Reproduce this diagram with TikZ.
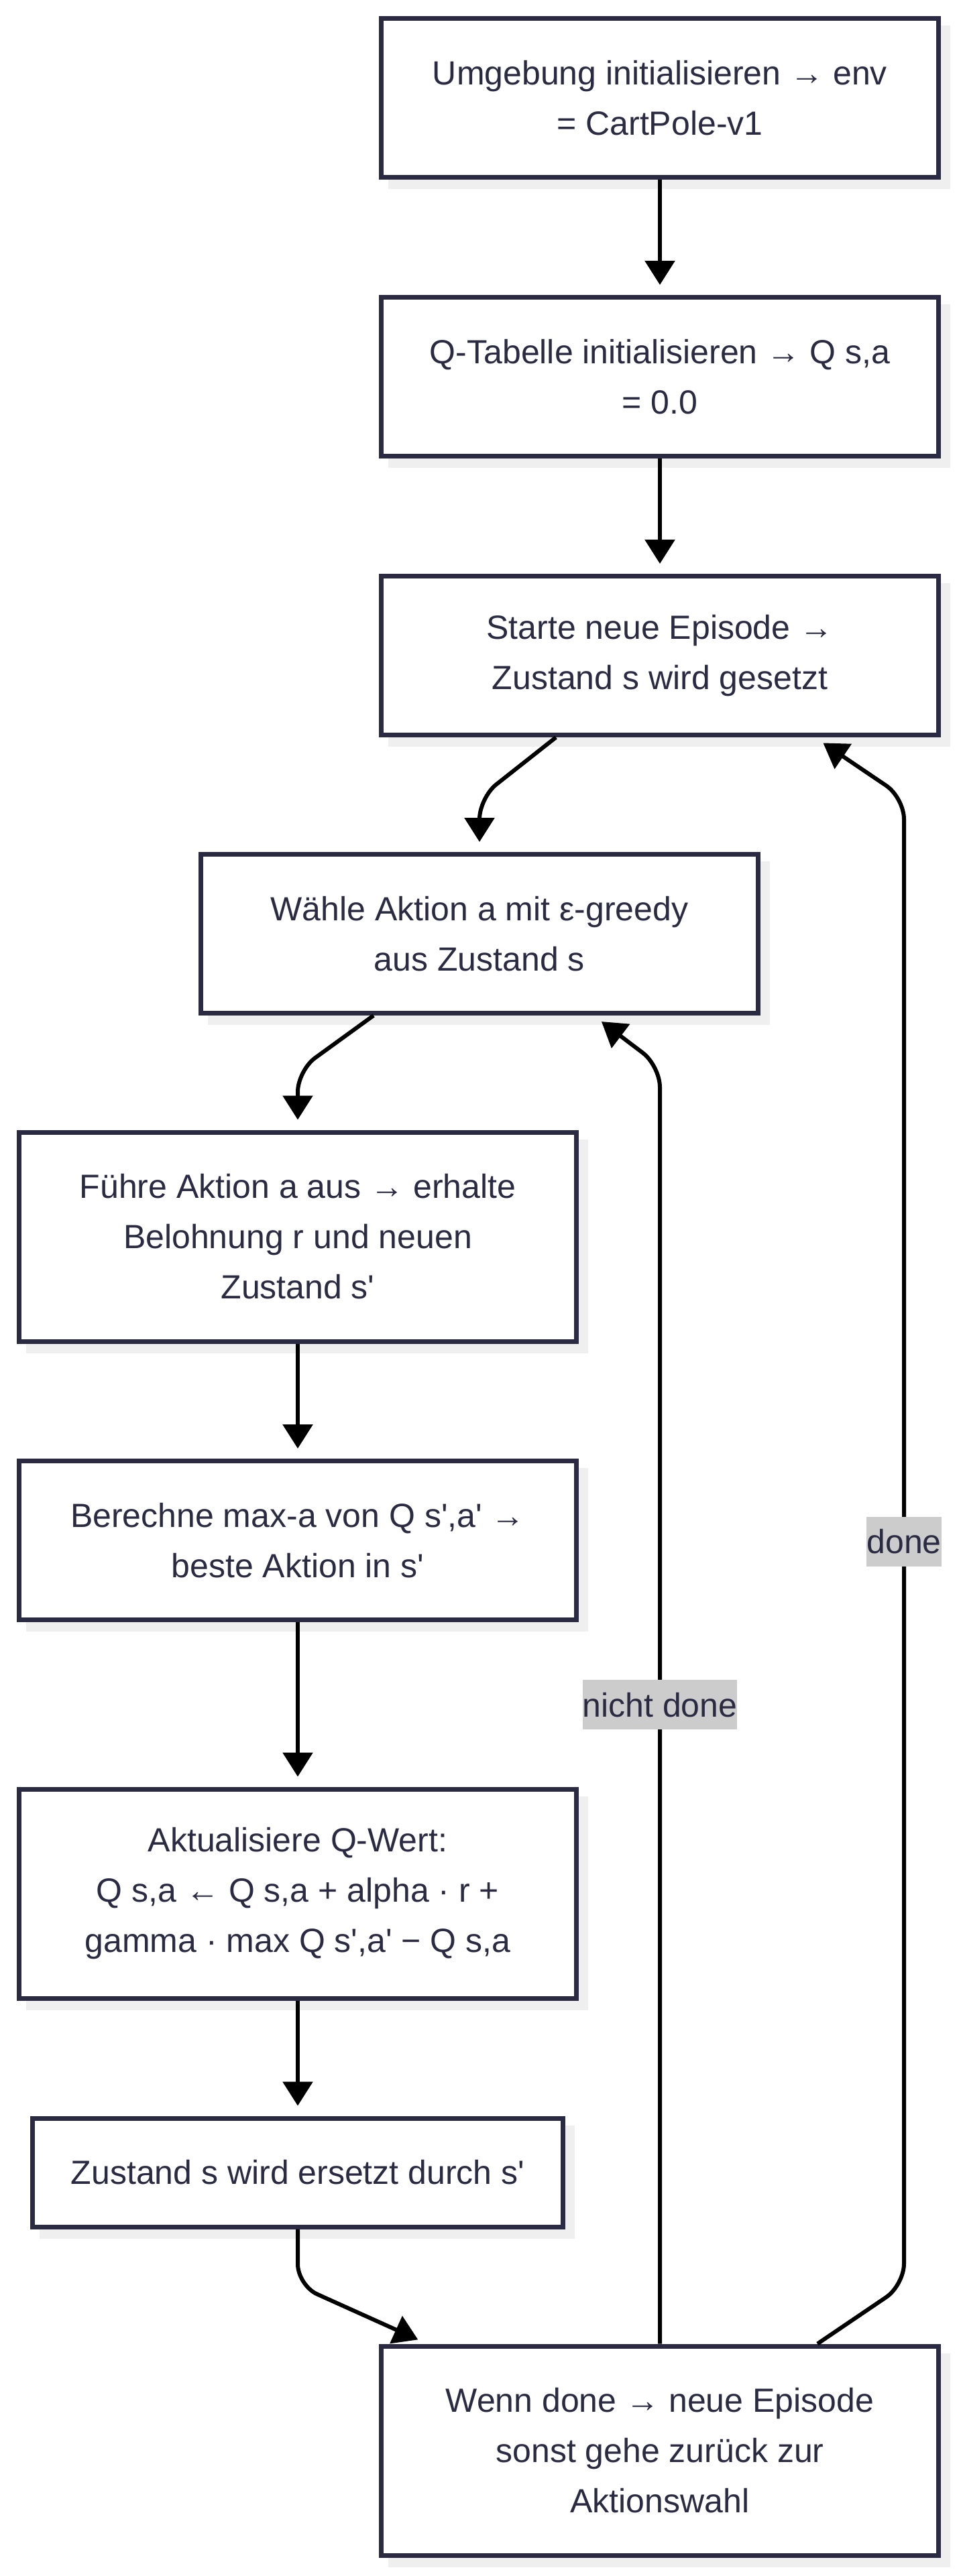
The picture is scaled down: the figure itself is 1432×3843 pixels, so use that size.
\documentclass[tikz,border=0pt]{standalone}
\usepackage{fontspec}
\setmainfont{Liberation Sans}[Ligatures=TeXOff]
\usetikzlibrary{arrows.meta,calc,shadows}
\definecolor{ink}{HTML}{2A2A42}
\definecolor{shadowgray}{HTML}{EFEFEF}
\definecolor{labelgray}{HTML}{CCCCCC}
\tikzset{
  box/.style={rectangle, draw=ink, line width=3.5pt, fill=white, inner sep=0pt,
    align=center, text=ink, font=\fontsize{25pt}{37.5pt}\selectfont,
    drop shadow={shadow xshift=7pt, shadow yshift=-7pt, fill=shadowgray,
      draw=shadowgray, line width=3.5pt, opacity=1}},
  wide/.style={minimum width=415.5pt},
  narrow/.style={minimum width=395.5pt},
  hone/.style={minimum height=81pt},
  htwo/.style={minimum height=118.5pt},
  hthree/.style={minimum height=156pt},
  conn/.style={draw=black, line width=3pt, -{Triangle[length=18pt,width=22pt]},
    shorten >=7.5pt, rounded corners=16pt},
  lab/.style={sharp corners, fill=labelgray, text=ink, inner sep=0pt, minimum height=37pt,
    font=\fontsize{25pt}{37.5pt}\selectfont}
}
\begin{document}
\begin{tikzpicture}[x=0.5pt,y=-0.5pt]
\fill[white] (0,0) rectangle (1432,3843);
\useasboundingbox (0,0) rectangle (1432,3843);

\node[box,wide,htwo] (b1) at (984,146) {Umgebung initialisieren → env\\= CartPole-v1};
\node[box,wide,htwo] (b2) at (984,562) {Q-Tabelle initialisieren → Q s,a\\= 0.0};
\node[box,wide,htwo] (b3) at (984,978) {Starte neue Episode →\\Zustand s wird gesetzt};
\node[box,wide,htwo] (b4) at (715,1393) {Wähle Aktion a mit ε-greedy\\aus Zustand s};
\node[box,wide,hthree] (b5) at (444,1845) {Führe Aktion a aus → erhalte\\Belohnung r und neuen\\Zustand s'};
\node[box,wide,htwo] (b6) at (444,2298) {Berechne max-a von Q s',a' →\\beste Aktion in s'};
\node[box,wide,hthree] (b7) at (444,2825) {Aktualisiere Q-Wert:\\Q s,a ← Q s,a + alpha · r +\\gamma · max Q s',a' − Q s,a};
\node[box,narrow,hone] (b8) at (444,3241) {Zustand s wird ersetzt durch s'};
\node[box,wide,hthree] (b9) at (984,3656) {Wenn done → neue Episode\\sonst gehe zurück zur\\Aktionswahl};

\draw[conn] (b1) -- (b2);
\draw[conn] (b2) -- (b3);
\draw[conn] ($(b3.south)+(-155,0)$) -- (715,1190) -- (b4.north);
\draw[conn] ($(b4.south)+(-158,0)$) -- (444,1597) -- (b5.north);
\draw[conn] (b5) -- (b6);
\draw[conn] (b6) -- (b7);
\draw[conn] (b7) -- (b8);
\draw[conn] (b8.south) -- (444,3409.5) -- ($(b9.north west)+(72,0)$);
\draw[conn] (b9.north) -- node[lab] (lnd) {nicht done} (984,1590) -- ($(b4.south)+(170,0)$);
\draw[conn] ($(b9.north)+(235,0)$) -- (1348,3409) -- node[lab] (ld) {done} (1348,1190) -- ($(b3.south)+(231,0)$);
\end{tikzpicture}
\end{document}
